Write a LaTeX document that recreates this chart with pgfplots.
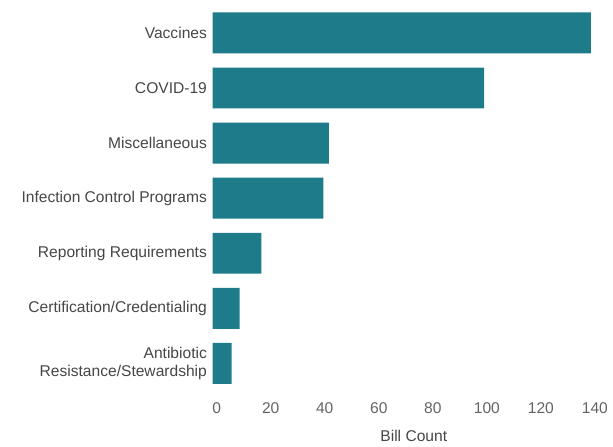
\documentclass[border=0pt]{standalone}
\usepackage{pgfplots}
\pgfplotsset{compat=1.18}
\usepackage{fontspec}
\setmainfont{Liberation Sans}
\definecolor{barteal}{RGB}{29,123,138}
\definecolor{labgray}{RGB}{70,70,70}
\definecolor{numgray}{RGB}{100,100,100}

\begin{document}
\begin{tikzpicture}
  \begin{axis}[
    xbar, bar width=26.75pt, bar shift=0pt,
    scale only axis, width=250.2pt, height=259.7pt,
    xmin=0, xmax=141.5,
    ymin=-0.597, ymax=6.606, y dir=reverse,
    ytick={0,...,6},
    yticklabels={Vaccines, COVID-19, Miscellaneous, Infection Control Programs,
      Reporting Requirements, Certification/Credentialing,
      {Antibiotic\\Resistance/Stewardship}},
    yticklabel style={align=right, font=\fontsize{10.2}{11.7}\selectfont,
      text=labgray, xshift=4pt},
    xtick={0,20,...,140},
    xticklabel style={font=\fontsize{10.2}{12}\selectfont, text=numgray, xshift=2.6pt},
    /pgf/number format/assume math mode=true,
    xlabel={Bill Count},
    x label style={at={(axis description cs:0.5,0)}, anchor=center,
      yshift=-25.4pt, xshift=6.5pt, font=\fontsize{10.2}{12}\selectfont, text=labgray},
    axis line style={draw=none}, tick style={draw=none},
  ]
    \addplot[fill=barteal, draw=none] coordinates {
      (140,0) (100.5,1) (43,2) (41,3) (18,4) (10,5) (7,6)
    };
  \end{axis}
  % page frame, same margins as the reference
  \path (-139.2pt,-31.3pt) rectangle (260.8pt,259.7pt);
\end{tikzpicture}
\end{document}
